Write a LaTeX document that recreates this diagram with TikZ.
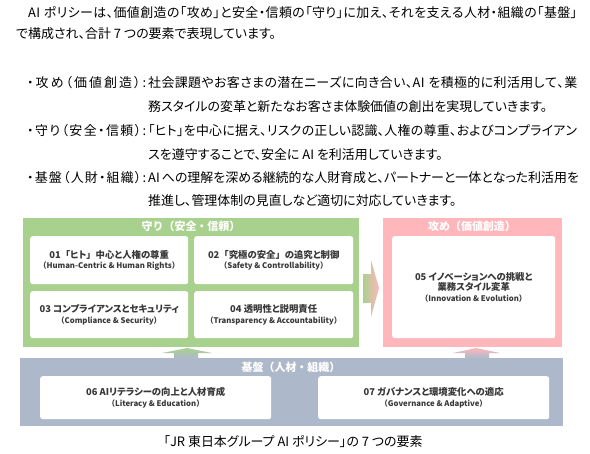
\documentclass[tikz,border=0pt]{standalone}
\usepackage{fontspec}
\setmainfont{Noto Sans CJK JP}[RawFeature=+palt]
\newfontfamily\jpfull{Noto Sans CJK JP}
\definecolor{gfill}{HTML}{A9D18E}
\definecolor{pfill}{HTML}{FFB7BC}
\definecolor{bfill}{HTML}{ADB9CA}
\definecolor{boxtxt}{HTML}{383838}
\makeatletter
\newcommand\spread[2]{\makebox[#1][s]{\@tfor\sp@ch:=#2\do{\sp@ch\hskip 0pt plus 1fil\relax}\unskip}}
\makeatother
\newcommand{\fb}[1]{{\jpfull #1}}
\tikzset{
  body/.style={anchor=west, inner sep=0pt, font=\fontsize{13}{15}\selectfont},
  outerbox/.style={draw=none, inner sep=0pt, anchor=north west},
  wbox/.style={fill=white, rounded corners=2.5bp, inner sep=0pt, anchor=north west, align=center, text=boxtxt, font=\bfseries\fontsize{9.4}{10.5}\selectfont},
  ttl/.style={text=white, inner sep=0pt, font=\jpfull\bfseries\fontsize{11}{13}\selectfont},
}
\newcommand{\en}[1]{{\jpfull\fontsize{7.8}{10.5}\selectfont #1}}
\begin{document}
\begin{tikzpicture}[x=1bp,y=-1bp]
\useasboundingbox (0,0) rectangle (590,454);
% intro
\node[body] (i1) at (28,13) {\spread{549bp}{AI~ポリシーは、価値創造の「攻め」と安全・信頼の「守り」に加え、それを支える人材・組織の「基盤」}};
\node[body] (i2) at (16,34) {で構成され、合計 7 つの要素で表現しています。};
% bullets
\node[body] (l1) at (27,83) {\spread{119bp}{・攻め（価値創造）:}};
\node[body] (t1a) at (148,83) {\spread{429bp}{社会課題やお客さまの潜在ニーズに向き合い、AI~を積極的に利活用して、業}};
\node[body] (t1b) at (148,107) {務スタイルの変革と新たなお客さま体験価値の創出を実現していきます。};
\node[body] (l2) at (27,131) {\spread{119bp}{・守り（安全・信頼）:}};
\node[body] (t2a) at (148,131) {\spread{429bp}{「ヒト」を中心に据え、リスクの正しい認識、人権の尊重、およびコンプライアン}};
\node[body] (t2b) at (148,155) {スを遵守することで、安全に AI を利活用していきます。};
\node[body] (l3) at (27,178) {\spread{119bp}{・基盤（人財・組織）:}};
\node[body] (t3a) at (148,178) {\spread{429bp}{AI~への理解を深める継続的な人財育成と、パートナーと一体となった利活用を}};
\node[body] (t3b) at (148,201) {推進し、管理体制の見直しなど適切に対応していきます。};
% green group
\node[outerbox, fill=gfill, minimum width=336bp, minimum height=129bp] (mamori) at (23,218) {};
\node[ttl] (mamorit) at (191,226) {守り（安全・信頼）};
\node[wbox, minimum width=158bp, minimum height=48bp] (b1) at (30,236) {01\fb{「}ヒト\fb{」}中心と人権の尊重\\\en{（Human-Centric \& Human Rights）}};
\node[wbox, minimum width=159bp, minimum height=48bp] (b2) at (194,236) {02\fb{「}究極の安全\fb{」}の追究と制御\\\en{（Safety \& Controllability）}};
\node[wbox, minimum width=158bp, minimum height=47bp] (b3) at (30,291) {03 コンプライアンスとセキュリティ\\\en{（Compliance \& Security）}};
\node[wbox, minimum width=159bp, minimum height=47bp] (b4) at (194,291) {04 透明性と説明責任\\\en{（Transparency \& Accountability）}};
% pink group
\node[outerbox, fill=pfill, minimum width=179bp, minimum height=129bp] (seme) at (383,218) {};
\node[ttl] (semet) at (472,226) {攻め（価値創造）};
\node[wbox, minimum width=163bp, minimum height=102bp] (b5) at (392,236) {05 イノベーションへの挑戦と\\業務スタイル変革\\\en{（Innovation \& Evolution）}};
% base group
\node[outerbox, fill=bfill, minimum width=543bp, minimum height=68bp] (kiban) at (20,358) {};
\node[ttl] (kibant) at (291,367) {基盤（人材・組織）};
\node[wbox, minimum width=231bp, minimum height=43bp] (b6) at (40,376) {06 AIリテラシーの向上と人材育成\\\en{（Literacy \& Education）}};
\node[wbox, minimum width=231bp, minimum height=43bp] (b7) at (318,376) {07 ガバナンスと環境変化への適応\\\en{（Governance \& Adaptive）}};
% arrows
\shade[left color=gfill, right color=pfill] (363,274) -- (371,274) -- (371,260) -- (379,288) -- (371,317) -- (371,303) -- (363,303) -- cycle;
\shade[top color=gfill, bottom color=bfill] (162,353) -- (187,348) -- (212,353) -- (198,353) -- (198,358) -- (174,358) -- (174,353) -- cycle;
\shade[top color=pfill, bottom color=bfill] (453,353) -- (476,348) -- (500,353) -- (489,353) -- (489,358) -- (465,358) -- (465,353) -- cycle;
% caption
\node[anchor=center, inner sep=0pt, font=\fontsize{13}{15}\selectfont] (cap) at (293,442) {「JR 東日本グループ AI ポリシー」の 7 つの要素};
\end{tikzpicture}
\end{document}
